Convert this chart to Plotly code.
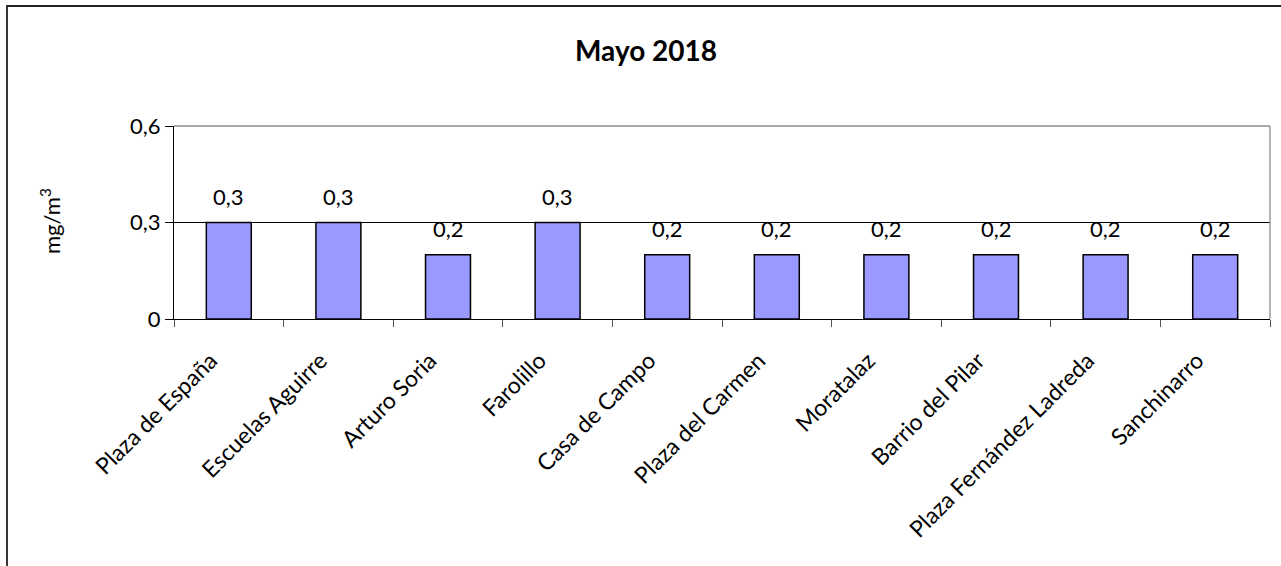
import plotly.graph_objects as go

categories = ["Plaza de España", "Escuelas Aguirre", "Arturo Soria", "Farolillo",
              "Casa de Campo", "Plaza del Carmen", "Moratalaz", "Barrio del Pilar",
              "Plaza Fernández Ladreda", "Sanchinarro"]
values = [0.3, 0.3, 0.2, 0.3, 0.2, 0.2, 0.2, 0.2, 0.2, 0.2]
y_ticks = [0, 0.3, 0.6]
y_tick_labels = ["0", "0,3", "0,6"]
title_text = "Mayo 2018"
y_title = "mg/m<sup>3</sup>"

FONT = "Lato"
W, H = 1281, 566
L, T = 174, 126
pw, ph = 1096, 193
R = W - L - pw
B = H - T - ph

fig = go.Figure()
fig.add_trace(go.Bar(
    x=categories, y=values,
    marker=dict(color="#9999FF", line=dict(color="#000000", width=1.5)),
    width=0.41, hoverinfo="skip",
))

annotations = []
for c, v in zip(categories, values):
    annotations.append(dict(
        x=c, y=v, xref="x", yref="y", text=f"{v:.1f}".replace(".", ","),
        showarrow=False, yanchor="middle", yshift=26,
        font=dict(family=FONT, size=22, color="#000000"),
    ))
annotations.append(dict(
    x=(646 - L) / pw, y=1 + (T - 50) / ph, xref="paper", yref="paper",
    text=f"<b>{title_text}</b>", showarrow=False, xanchor="center", yanchor="middle",
    font=dict(family=FONT, size=28, color="#000000"),
))
annotations.append(dict(
    x=(50 - L) / pw, y=(T + ph - 221) / ph, xref="paper", yref="paper",
    text=y_title, showarrow=False, textangle=-90, xanchor="center", yanchor="middle",
    font=dict(family=FONT, size=22, color="#000000"),
))

shapes = [
    dict(type="rect", xref="paper", yref="paper",
         x0=(7 - L) / pw, x1=1 + (R + 30) / pw,
         y0=-(B + 30) / ph, y1=1 + (T - 6) / ph,
         line=dict(color="#222222", width=1.8), fillcolor="rgba(0,0,0,0)", layer="below"),
    dict(type="line", xref="paper", yref="paper", x0=0, x1=1, y0=1, y1=1,
         line=dict(color="#8c8c8c", width=1.3)),
    dict(type="line", xref="paper", yref="paper", x0=1, x1=1, y0=0, y1=1,
         line=dict(color="#8c8c8c", width=1.3)),
]

fig.update_layout(
    width=W, height=H,
    margin=dict(l=L, r=R, t=T, b=B, autoexpand=False),
    paper_bgcolor="white", plot_bgcolor="white",
    showlegend=False,
    annotations=annotations, shapes=shapes,
    font=dict(family=FONT, size=22, color="#000000"),
    xaxis=dict(
        tickangle=-45, tickson="boundaries", ticks="outside", ticklen=7,
        tickcolor="#555555", showline=True, linecolor="#000000", linewidth=1.2,
        showgrid=False, tickfont=dict(family=FONT, size=23, color="#000000"),
        range=[-0.5, len(categories) - 0.5],
        ticklabelstandoff=18, ticklabelshift=-18,
    ),
    yaxis=dict(
        range=[0, 0.6], tickvals=y_ticks, ticktext=y_tick_labels,
        ticks="outside", ticklen=8, tickcolor="#000000",
        showline=True, linecolor="#000000", linewidth=1.2,
        showgrid=True, gridcolor="#000000", gridwidth=1,
        zeroline=False,
        tickfont=dict(family=FONT, size=22, color="#000000"),
    ),
)

fig.write_html(
    "out.html",
    config=dict(displayModeBar=False),
    post_script="document.body.style.margin='0';document.body.style.overflow='hidden';",
)
